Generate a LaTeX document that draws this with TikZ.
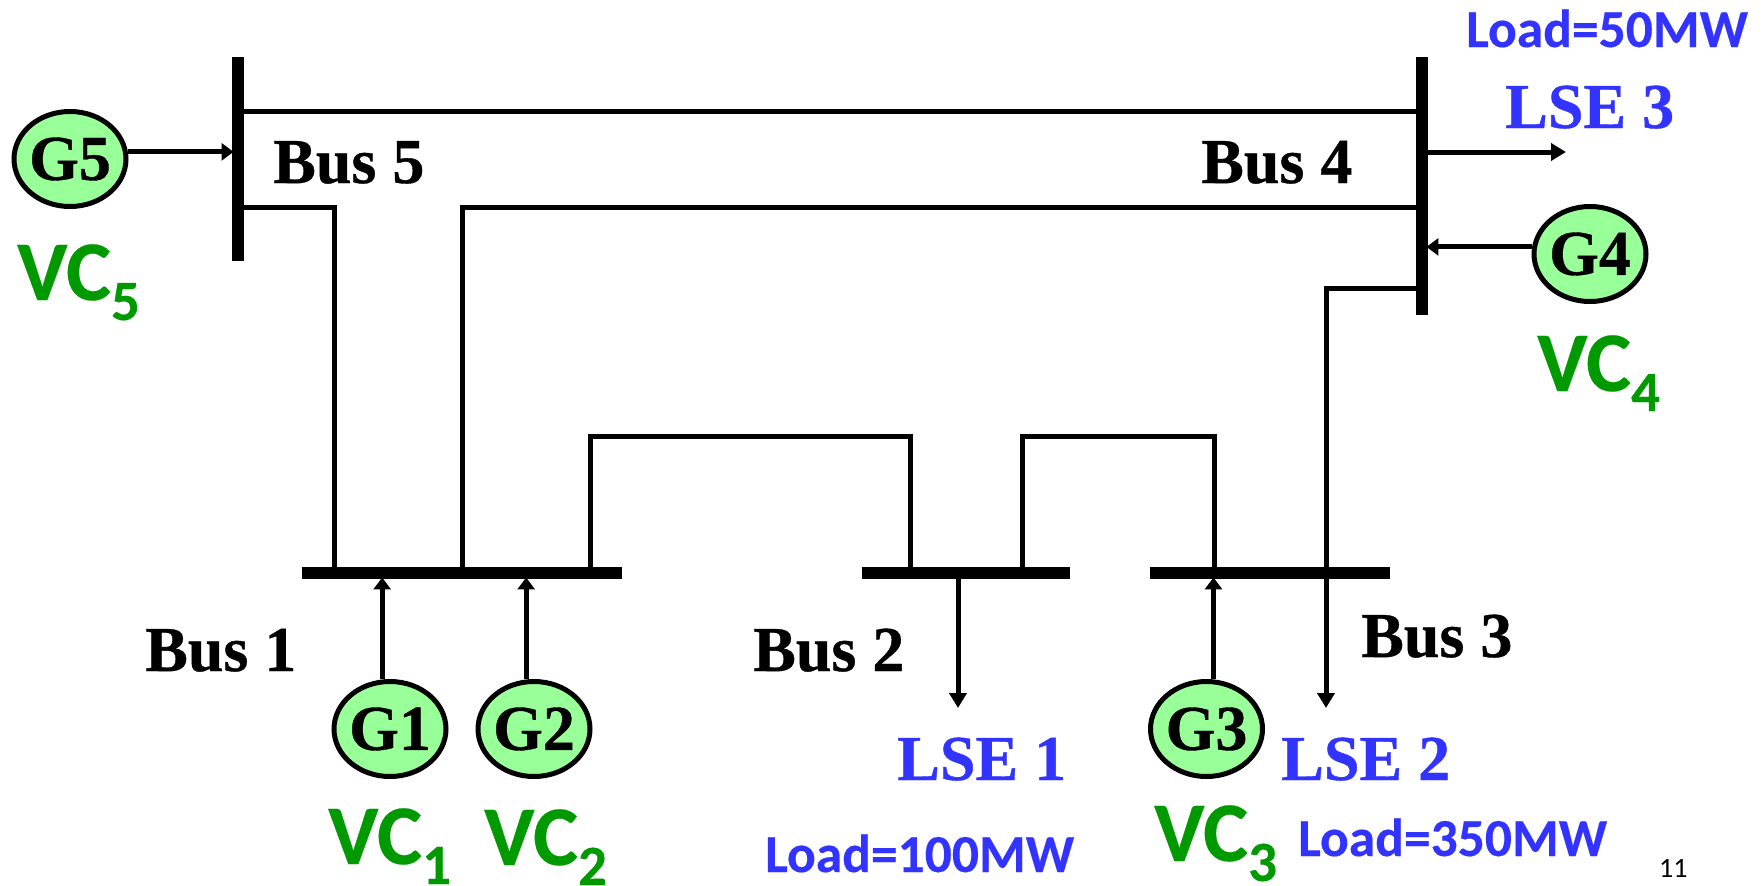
\documentclass[tikz,border=0pt]{standalone}
\usepackage{fontspec}
\setmainfont{Liberation Serif}[BoldFeatures={FakeBold=0.6}]
\newfontfamily\calibrifont{Carlito}[BoldFeatures={FakeBold=0.3}]
\usepackage{tikz}
\usetikzlibrary{arrows.meta,shapes.geometric}
\definecolor{genfill}{HTML}{99FF99}
\definecolor{vcgreen}{HTML}{009900}
\definecolor{lseblue}{HTML}{3333FF}
\newcommand{\vcsub}[1]{VC\raisebox{-20pt}{\fontsize{57}{57}\selectfont #1}}
\tikzset{
    busbar/.style = {
        rectangle,
        fill=black,
        inner sep=0pt
    },
    hbus/.style = {
        busbar,
        minimum height=12.5pt
    },
    vbus/.style = {
        busbar,
        minimum width=12.5pt
    },
    gennode/.style = {
        ellipse,
        draw=black,
        line width=5pt,
        fill=genfill,
        inner ysep=0pt,
        inner xsep=-2pt,
        minimum width=112pt,
        minimum height=95pt,
        font=\bfseries\fontsize{64}{64}\selectfont
    },
    labelnode/.style = {
        anchor=base west,
        inner sep=0pt
    },
    buslabel/.style = {
        labelnode,
        font=\bfseries\fontsize{64}{64}\selectfont
    },
    lselabel/.style = {
        buslabel,
        text=lseblue
    },
    loadlabel/.style = {
        labelnode,
        text=lseblue,
        font=\calibrifont\bfseries\fontsize{53.5}{54}\selectfont
    },
    vclabel/.style = {
        labelnode,
        text=vcgreen,
        font=\calibrifont\bfseries\fontsize{85}{85}\selectfont
    },
    feeder/.style = {
        draw=black,
        line width=5pt
    },
    flow/.style = {
        feeder,
        -{Triangle[length=15pt,width=17pt]}
    },
    inflow/.style = {
        feeder,
        -{Triangle[length=12pt,width=17pt]},
        shorten >=-2pt
    }
}
\begin{document}
\begin{tikzpicture}[x=1pt,y=-1pt]
    \useasboundingbox (0,0) rectangle (1762,886);
    % buses
    \node [vbus, minimum height=204pt] (bus5) at (238,159) {};
    \node [vbus, minimum height=258pt] (bus4) at (1422,186) {};
    \node [hbus, minimum width=320pt] (bus1) at (462,573) {};
    \node [hbus, minimum width=208pt] (bus2) at (966,573) {};
    \node [hbus, minimum width=240pt] (bus3) at (1270,573) {};
    % generators
    \node [gennode] (g5) at (70,159) {G5};
    \node [gennode] (g4) at (1590,254) {G4};
    \node [gennode] (g1) at (390,729) {G1};
    \node [gennode] (g2) at (534,729) {G2};
    \node [gennode] (g3) at (1206.5,729) {G3};
    % free arrow ends
    \coordinate (lse1end) at (958,708);
    \coordinate (lse2end) at (1326,708);
    \coordinate (lse3end) at (1566,152);
    % lines
    \draw [feeder] (bus5.east |- 0,111) -- (bus4.west |- 0,111);
    \draw [feeder] (bus5.east |- 0,207) -| (334,0 |- bus1.north);
    \draw [feeder] (bus4.west |- 0,207) -| (462,0 |- bus1.north);
    \draw [feeder] (590,0 |- bus1.north) |- (910,436) -- (910,0 |- bus2.north);
    \draw [feeder] (1022,0 |- bus2.north) |- (1214,436) -- (1214,0 |- bus3.north);
    \draw [flow] (bus4.west |- 0,288) -| (lse2end);
    % generator and load arrows
    \draw [inflow] (g5.7) -- (g5.7 -| bus5.west);
    \draw [inflow] (g4.173) -- (g4.173 -| bus4.east);
    \draw [inflow] (g1.99) -- (g1.99 |- bus1.south);
    \draw [inflow] (g2.99) -- (g2.99 |- bus1.south);
    \draw [inflow] (g3.82) -- (g3.82 |- bus3.south);
    \draw [flow] (958,0 |- bus2.south) -- (lse1end);
    \draw [flow] (bus4.east |- lse3end) -- (lse3end);
    % labels
    \node [buslabel] (bus5text) at (273,183) {Bus 5};
    \node [buslabel] (bus4text) at (1201,183) {Bus 4};
    \node [buslabel] (bus1text) at (145,671) {Bus 1};
    \node [buslabel] (bus2text) at (753,671) {Bus 2};
    \node [buslabel] (bus3text) at (1361,657) {Bus 3};
    \node [lselabel] (lse3text) at (1505,128) {LSE 3};
    \node [lselabel] (lse1text) at (897,780) {LSE 1};
    \node [lselabel] (lse2text) at (1281,780) {LSE 2};
    \node [loadlabel] (load3) at (1466,47) {Load=50MW};
    \node [loadlabel] (load1) at (765,872) {Load=100MW};
    \node [loadlabel] (load2) at (1298,856) {Load=350MW};
    \node [vclabel] (vc5) at (17,300) {\vcsub{5}};
    \node [vclabel] (vc4) at (1537,391) {\vcsub{4}};
    \node [vclabel] (vc1) at (328,864) {\vcsub{1}};
    \node [vclabel] (vc2) at (484,865) {\vcsub{2}};
    \node [vclabel] (vc3) at (1154,861) {\vcsub{3}};
    \node [labelnode, font=\calibrifont\fontsize{28}{28}\selectfont] (pagenum) at (1659,877) {11};
\end{tikzpicture}
\end{document}
